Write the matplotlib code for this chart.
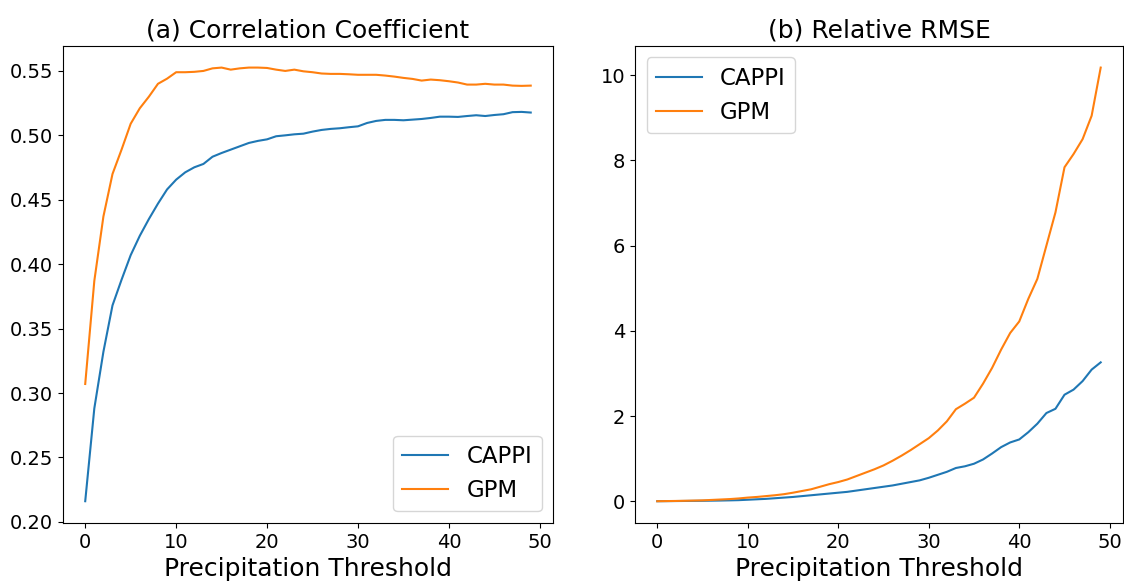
import matplotlib
matplotlib.use("Agg")
import matplotlib.pyplot as plt
import numpy as np

thresholds = np.arange(50)

corr_cappi = [0.216, 0.288, 0.332, 0.368, 0.388, 0.407, 0.422, 0.435, 0.447, 0.458,
              0.4656, 0.4713, 0.4752, 0.4778, 0.4834, 0.4863, 0.4889, 0.4915, 0.4941, 0.4957,
              0.4969, 0.4993, 0.500, 0.5008, 0.5013, 0.5029, 0.5042, 0.505, 0.5055, 0.5063,
              0.507, 0.5096, 0.5112, 0.512, 0.512, 0.5117, 0.5122, 0.5127, 0.5135, 0.5145,
              0.5145, 0.5143, 0.515, 0.5156, 0.515, 0.5158, 0.5164, 0.518, 0.5182, 0.5177]
corr_gpm = [0.307, 0.387, 0.437, 0.470, 0.489, 0.509, 0.521, 0.530, 0.540, 0.544,
            0.549, 0.549, 0.5493, 0.550, 0.552, 0.5526, 0.551, 0.552, 0.5526, 0.5526,
            0.5523, 0.551, 0.550, 0.551, 0.5497, 0.549, 0.548, 0.5477, 0.5477, 0.5474,
            0.547, 0.547, 0.547, 0.5464, 0.5456, 0.5446, 0.5438, 0.5425, 0.5433, 0.5428,
            0.542, 0.541, 0.5394, 0.5394, 0.540, 0.5394, 0.5394, 0.5386, 0.5384, 0.5386]

rmse_cappi = [0.0, 0.002, 0.004, 0.006, 0.008, 0.01, 0.013, 0.016, 0.02, 0.025,
              0.035, 0.045, 0.055, 0.07, 0.085, 0.1, 0.12, 0.14, 0.16, 0.18,
              0.2, 0.22, 0.25, 0.28, 0.31, 0.34, 0.37, 0.41, 0.45, 0.49,
              0.55, 0.62, 0.69, 0.78, 0.82, 0.88, 0.98, 1.12, 1.27, 1.38,
              1.45, 1.62, 1.82, 2.07, 2.17, 2.5, 2.62, 2.82, 3.09, 3.26]
rmse_gpm = [0.0, 0.003, 0.006, 0.01, 0.015, 0.02, 0.03, 0.04, 0.05, 0.065,
            0.085, 0.1, 0.12, 0.14, 0.165, 0.2, 0.24, 0.28, 0.34, 0.40,
            0.45, 0.51, 0.59, 0.67, 0.75, 0.84, 0.95, 1.07, 1.2, 1.34,
            1.48, 1.66, 1.875, 2.16, 2.29, 2.43, 2.76, 3.13, 3.56, 3.95,
            4.22, 4.75, 5.22, 6.0, 6.78, 7.84, 8.15, 8.5, 9.05, 10.18]

fig = plt.figure(figsize=(11.24, 5.81), dpi=100)
ax1 = fig.add_axes([0.056, 0.100, 0.436, 0.821])
ax2 = fig.add_axes([0.565, 0.100, 0.434, 0.821])

ax1.plot(thresholds, corr_cappi, label="CAPPI")
ax1.plot(thresholds, corr_gpm, label="GPM")
ax1.set_title("(a) Correlation Coefficient", fontsize=18)
ax1.set_xlabel("Precipitation Threshold", fontsize=18, labelpad=4)
ax1.tick_params(labelsize=14)
ax1.legend(loc="lower right", fontsize=16.5)

ax2.plot(thresholds, rmse_cappi, label="CAPPI")
ax2.plot(thresholds, rmse_gpm, label="GPM")
ax2.set_title("(b) Relative RMSE", fontsize=18)
ax2.set_xlabel("Precipitation Threshold", fontsize=18, labelpad=4)
ax2.tick_params(labelsize=14)
ax2.legend(loc="upper left", fontsize=16.5)

fig.savefig("out.png", dpi=100)
